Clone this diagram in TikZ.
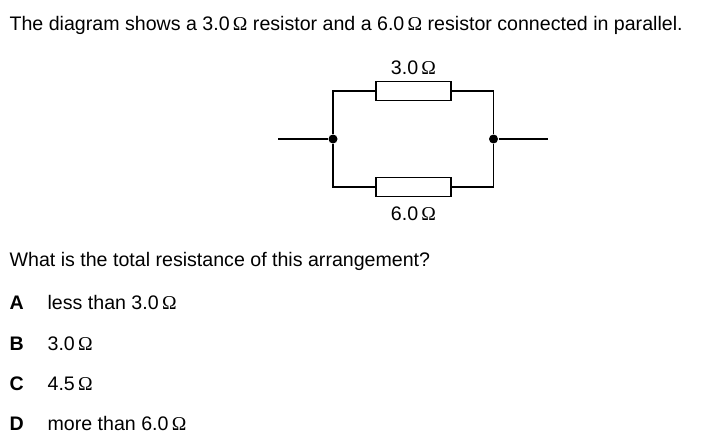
\documentclass[tikz,border=0pt]{standalone}
\usepackage{fontspec}
\setmainfont{Liberation Sans}
\newfontfamily\ohmfont{Liberation Serif}
\usepackage{tikz}
\usetikzlibrary{positioning}
\newcommand{\ohm}{{\ohmfont Ω}}
\tikzset{
  txt/.style={anchor=base west,inner sep=0pt,font=\fontsize{19.6pt}{22pt}\selectfont},
  lbl/.style={anchor=base,inner sep=0pt,font=\fontsize{19.6pt}{22pt}\selectfont},
  opt/.style={txt,font=\fontsize{19.6pt}{22pt}\selectfont\bfseries},
  res/.style={draw,fill=white,line width=1.25pt,minimum width=75pt,minimum height=19pt,inner sep=0pt},
  dotnode/.style={circle,fill=black,inner sep=0pt,minimum size=9pt}
}
\begin{document}
\begin{tikzpicture}[x=1pt,y=-1pt,line width=1.25pt]
  \useasboundingbox (0,0) rectangle (703,447);
  \node[txt] (title) at (9,30) {The diagram shows a 3.0\,\ohm{} resistor and a 6.0\,\ohm{} resistor connected in parallel.};
  \node[lbl] (toplbl) at (413.5,74) {3.0\,\ohm};
  \node[lbl] (botlbl) at (413.5,220) {6.0\,\ohm};
  \node[dotnode] (left) at (333,139) {};
  \node[dotnode] (right) at (493.5,139) {};
  \coordinate (inn) at (278,139);
  \coordinate (outt) at (548,139);
  \node[res] (rtop) at (413.5,91) {};
  \node[res] (rbot) at (413.5,187) {};
  \draw (inn) -- (left);
  \draw (right) -- (outt);
  \draw (left) |- (rtop);
  \draw (left) |- (rbot);
  \draw (right) |- (rtop);
  \draw (right) |- (rbot);
  \node[txt] (question) at (9,266) {What is the total resistance of this arrangement?};
  \node[opt] (a) at (9,309) {A};
  \node[txt] (atxt) at (47,309) {less than 3.0\,\ohm};
  \node[opt] (b) at (9,350) {B};
  \node[txt] (btxt) at (47,350) {3.0\,\ohm};
  \node[opt] (c) at (9,390) {C};
  \node[txt] (ctxt) at (47,390) {4.5\,\ohm};
  \node[opt] (d) at (9,430.5) {D};
  \node[txt] (dtxt) at (47,430.5) {more than 6.0\,\ohm};
\end{tikzpicture}
\end{document}
